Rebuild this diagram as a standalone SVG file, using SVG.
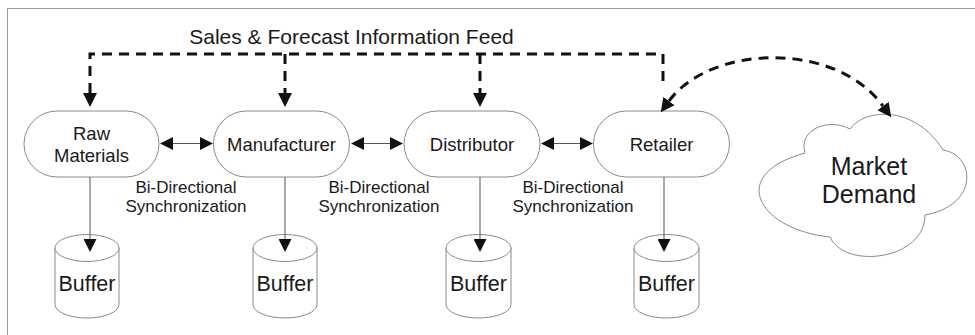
<svg xmlns="http://www.w3.org/2000/svg" width="975" height="335" viewBox="0 0 975 335">
<style>
  text { font-family: "Liberation Sans", Arial, sans-serif; fill: #1a1a1a; text-anchor: middle; }
  .node { fill: #fff; stroke: #8a8a8a; stroke-width: 1; }
  .lbl { font-size: 18.5px; }
  .sync { font-size: 17px; }
  .buf { font-size: 21.5px; }
  .dash { fill: none; stroke: #111; stroke-width: 3; stroke-dasharray: 10 7; }
  .solid { fill: none; stroke: #555; stroke-width: 1; }
</style>
<defs>
  <marker id="dArrow" markerUnits="userSpaceOnUse" markerWidth="14" markerHeight="14" refX="0" refY="7" orient="auto-start-reverse" viewBox="0 0 14 14">
    <path d="M0,0 L14,7 L0,14 z" fill="#111"/>
  </marker>
  <marker id="sArrow" markerUnits="userSpaceOnUse" markerWidth="13" markerHeight="13" refX="0" refY="6.5" orient="auto-start-reverse" viewBox="0 0 13 13">
    <path d="M0,0 L13,6.5 L0,13 z" fill="#111"/>
  </marker>
</defs>
<rect x="7.5" y="8.5" width="1000" height="400" fill="none" stroke="#9a9a9a" stroke-width="1"/>
<text x="351.5" y="43.5" style="font-size:21px">Sales &amp; Forecast Information Feed</text>
<g id="raw-materials">
  <rect class="node" x="24" y="111" width="135" height="66" rx="33"/>
  <text class="lbl" x="91.5" y="140">Raw</text>
  <text class="lbl" x="91.5" y="162">Materials</text>
</g>
<g id="manufacturer">
  <rect class="node" x="213.5" y="111" width="136" height="66" rx="33"/>
  <text class="lbl" x="281.5" y="151">Manufacturer</text>
</g>
<g id="distributor">
  <rect class="node" x="404" y="111" width="136" height="66" rx="33"/>
  <text class="lbl" x="472" y="151">Distributor</text>
</g>
<g id="retailer">
  <rect class="node" x="593.5" y="111" width="136" height="66" rx="33"/>
  <text class="lbl" x="661.5" y="151">Retailer</text>
</g>
<g id="market-demand">
  <path class="node" d="M805,153 C798,128 830,118 850,129 C865,108 915,105 943,150 C975,155 980,205 925,215 C925,260 845,270 830,237 C760,230 725,175 805,153 Z"/>
  <text x="869" y="175" style="font-size:25px">Market</text>
  <text x="869" y="203" style="font-size:25px">Demand</text>
</g>
<g id="sync-labels">
  <text class="sync" x="186" y="193">Bi-Directional</text>
  <text class="sync" x="186" y="212">Synchronization</text>
  <text class="sync" x="379" y="193">Bi-Directional</text>
  <text class="sync" x="379" y="212">Synchronization</text>
  <text class="sync" x="573" y="193">Bi-Directional</text>
  <text class="sync" x="573" y="212">Synchronization</text>
</g>
<g id="buffer-1">
  <path class="node" d="M55,248 A32,13.5 0 0 1 119,248 V304.5 A32,13.5 0 0 1 55,304.5 Z"/>
  <path class="node" fill="none" d="M55,248 A32,13.5 0 0 0 119,248"/>
  <text class="buf" x="87" y="291">Buffer</text>
</g>
<g id="buffer-2">
  <path class="node" d="M253,248 A32,13.5 0 0 1 317,248 V304.5 A32,13.5 0 0 1 253,304.5 Z"/>
  <path class="node" fill="none" d="M253,248 A32,13.5 0 0 0 317,248"/>
  <text class="buf" x="285" y="291">Buffer</text>
</g>
<g id="buffer-3">
  <path class="node" d="M446,248 A32.5,13.5 0 0 1 511,248 V304.5 A32.5,13.5 0 0 1 446,304.5 Z"/>
  <path class="node" fill="none" d="M446,248 A32.5,13.5 0 0 0 511,248"/>
  <text class="buf" x="478.5" y="291">Buffer</text>
</g>
<g id="buffer-4">
  <path class="node" d="M634,248 A32.5,13.5 0 0 1 699,248 V304.5 A32.5,13.5 0 0 1 634,304.5 Z"/>
  <path class="node" fill="none" d="M634,248 A32.5,13.5 0 0 0 699,248"/>
  <text class="buf" x="666.5" y="291">Buffer</text>
</g>
<g id="connectors">
  <path class="dash" d="M90,93 V54 H663 V86" marker-start="url(#dArrow)"/>
  <path class="dash" d="M285,54 V93" marker-end="url(#dArrow)"/>
  <path class="dash" d="M480,54 V93" marker-end="url(#dArrow)"/>
  <path class="dash" d="M669,101 C710,45 835,40 883,106" marker-start="url(#dArrow)" marker-end="url(#dArrow)"/>
  <path class="solid" d="M173,143.5 H200" marker-start="url(#sArrow)" marker-end="url(#sArrow)"/>
  <path class="solid" d="M364,143.5 H390" marker-start="url(#sArrow)" marker-end="url(#sArrow)"/>
  <path class="solid" d="M554,143.5 H580" marker-start="url(#sArrow)" marker-end="url(#sArrow)"/>
  <path class="solid" d="M90,177 V239" marker-end="url(#sArrow)"/>
  <path class="solid" d="M285,177 V239" marker-end="url(#sArrow)"/>
  <path class="solid" d="M480,177 V239" marker-end="url(#sArrow)"/>
  <path class="solid" d="M664,177 V239" marker-end="url(#sArrow)"/>
</g>
</svg>
